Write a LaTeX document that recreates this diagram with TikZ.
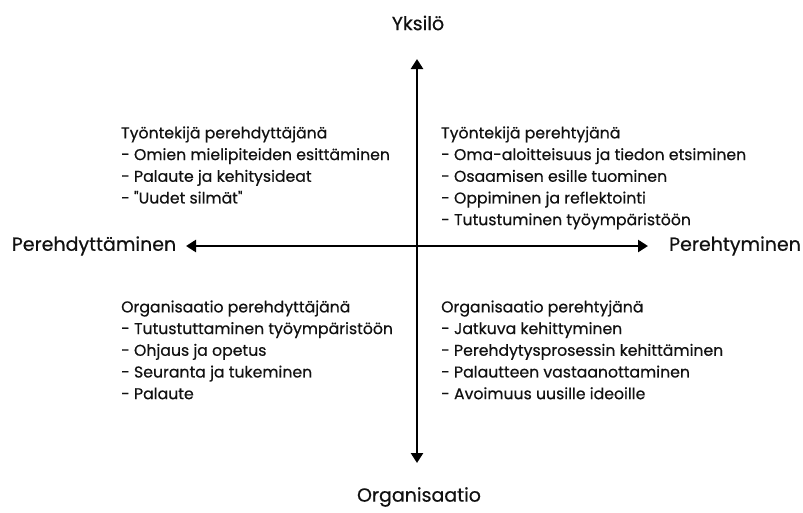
\documentclass[tikz,border=0pt]{standalone}
\usepackage{fontspec}
\setmainfont{Poppins}[FakeBold=0.5]
\usetikzlibrary{arrows.meta}
\definecolor{txt}{HTML}{111111}
\begin{document}
\begin{tikzpicture}[x=1pt,y=-1pt,
  axis/.style={line width=2.8pt,{Triangle[length=10pt,width=12pt]}-{Triangle[length=10pt,width=12pt]}},
  axlabel/.style={font=\fontsize{19}{22}\selectfont,text=txt,inner sep=0pt},
  block/.style={font=\fontsize{15.7}{21.7}\selectfont,text=txt,align=left,anchor=north west,inner sep=0pt}]
\useasboundingbox (0,0) rectangle (803,512);
\coordinate (top) at (417,59);
\coordinate (bot) at (417,463);
\coordinate (lft) at (186,246);
\coordinate (rgt) at (648,246);
\draw[axis] (bot) -- (top);
\draw[axis] (lft) -- (rgt);
\node[axlabel] (yk) at (418,23) {Yksilö};
\node[axlabel] (org) at (419,497) {Organisaatio};
\node[axlabel] (pd) at (94,246) {Perehdyttäminen};
\node[axlabel] (pt) at (735,246) {Perehtyminen};
\node[block] (tl) at (121,123) {\strut Työntekijä perehdyttäjänä\\- Omien mielipiteiden esittäminen\\- Palaute ja kehitysideat\\- \textquotedbl Uudet silmät\textquotedbl};
\node[block] (tr) at (441,123) {\strut Työntekijä perehtyjänä\\- Oma-aloitteisuus ja tiedon etsiminen\\- Osaamisen esille tuominen\\- Oppiminen ja reflektointi\\- Tutustuminen työympäristöön};
\node[block] (bl) at (121,297) {\strut Organisaatio perehdyttäjänä\\- Tutustuttaminen työympäristöön\\- Ohjaus ja opetus\\- Seuranta ja tukeminen\\- Palaute};
\node[block] (br) at (441,297) {\strut Organisaatio perehtyjänä\\- Jatkuva kehittyminen\\- Perehdytysprosessin kehittäminen\\- Palautteen vastaanottaminen\\- Avoimuus uusille ideoille};
\end{tikzpicture}
\end{document}
